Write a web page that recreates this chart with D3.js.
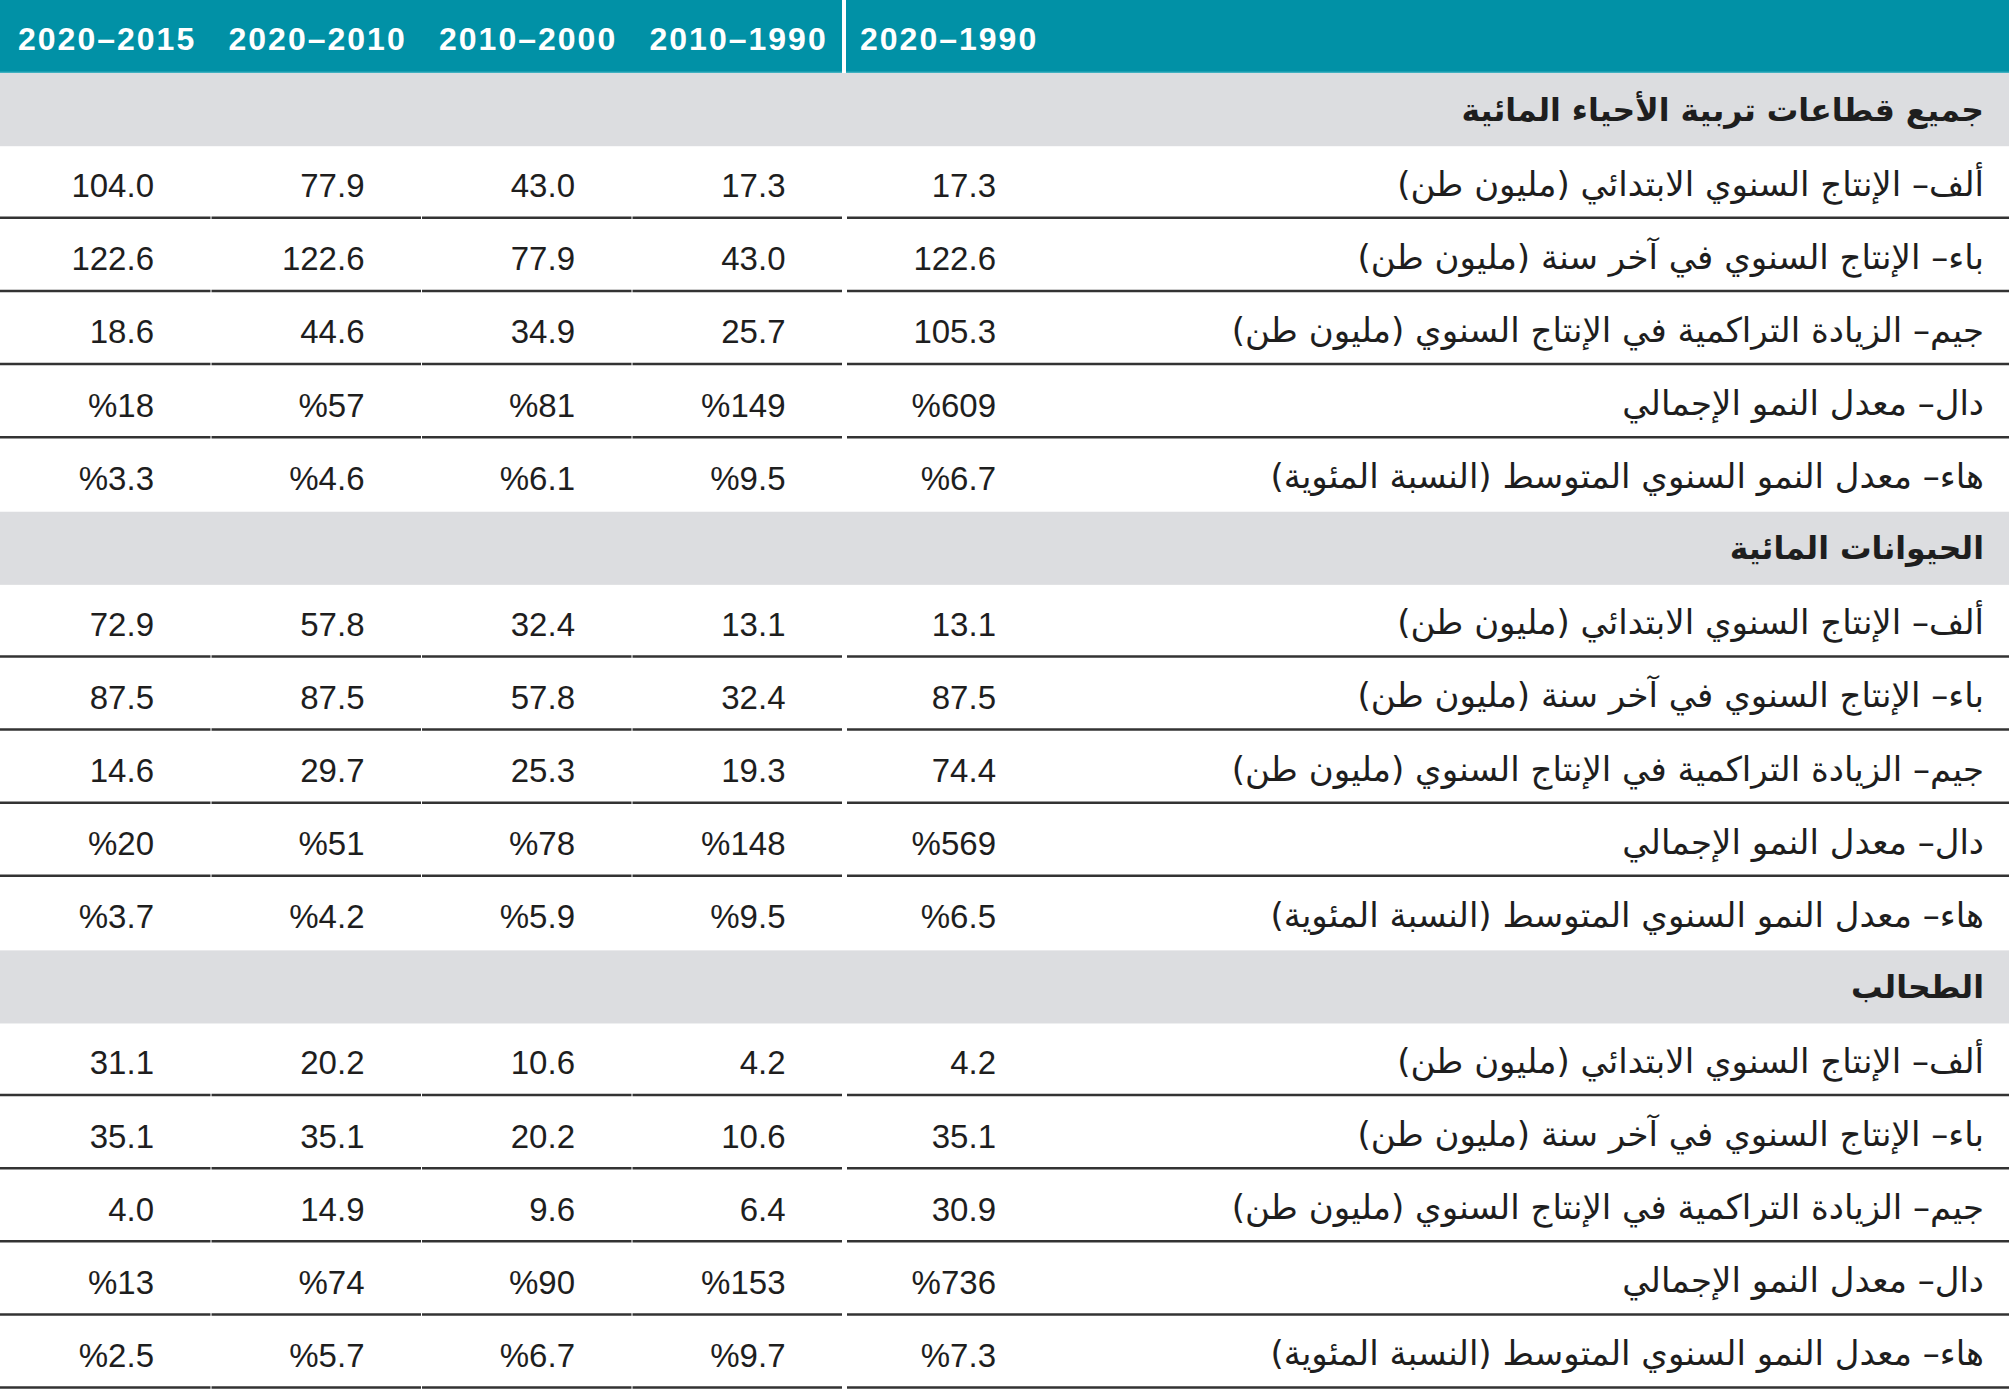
<!DOCTYPE html>
<html>
<head>
<meta charset="utf-8">
<script src="https://cdn.jsdelivr.net/npm/d3@7"></script>
<style>
  body { margin: 0; background: #fff; }
  svg { display: block; }
</style>
</head>
<body>
<div id="table"></div>
<script>
// columns, left to right as printed
const periods = ["2020–2015", "2020–2010", "2010–2000", "2010–1990", "2020–1990"];

const sections = ["جميع قطاعات تربية الأحياء المائية", "الحيوانات المائية", "الطحالب"];

const rowLabels = [
    "ألف– الإنتاج السنوي الابتدائي (مليون طن)",
    "باء– الإنتاج السنوي في آخر سنة (مليون طن)",
    "جيم– الزيادة التراكمية في الإنتاج السنوي (مليون طن)",
    "دال– معدل النمو الإجمالي",
    "هاء– معدل النمو السنوي المتوسط (النسبة المئوية)"
];

// one row per label, values follow the periods order
const allSectors = [
    [104.0, 77.9, 43.0, 17.3, 17.3],
    [122.6, 122.6, 77.9, 43.0, 122.6],
    [18.6, 44.6, 34.9, 25.7, 105.3],
    [18, 57, 81, 149, 609],
    [3.3, 4.6, 6.1, 9.5, 6.7]
];
const aquaticAnimals = [
    [72.9, 57.8, 32.4, 13.1, 13.1],
    [87.5, 87.5, 57.8, 32.4, 87.5],
    [14.6, 29.7, 25.3, 19.3, 74.4],
    [20, 51, 78, 148, 569],
    [3.7, 4.2, 5.9, 9.5, 6.5]
];
const algae = [
    [31.1, 20.2, 10.6, 4.2, 4.2],
    [35.1, 35.1, 20.2, 10.6, 35.1],
    [4.0, 14.9, 9.6, 6.4, 30.9],
    [13, 74, 90, 153, 736],
    [2.5, 5.7, 6.7, 9.7, 7.3]
];
const sectionData = [allSectors, aquaticAnimals, algae];

// formatting per row type
const fmt = [
    d3.format(".1f"), d3.format(".1f"), d3.format(".1f"),
    v => "%" + d3.format("d")(v),
    v => "%" + d3.format(".1f")(v)
];

const width = 2009, height = 1389;
const teal = "#0191a6", band = "#dcdde0", rule = "#333", ink = "#1e1e1e";

// flatten into rows: header, then section band + 5 data rows each
const rows = [{ type: "header" }];
sectionData.forEach((vals, s) => {
    rows.push({ type: "section", label: sections[s] });
    vals.forEach((v, i) => rows.push({ type: "data", label: rowLabels[i], values: v, fmt: fmt[i] }));
});

const y = d3.scaleBand().domain(d3.range(rows.length)).range([0, height]);
const x = d3.scaleBand().domain(periods).range([0, 1052.5]);
const gapX = x(periods[periods.length - 1]);
const labelRight = 1984;

const svg = d3.select("#table").append("svg")
    .attr("width", width)
    .attr("height", height);

// header
svg.append("rect")
    .attr("x", 0).attr("y", 0)
    .attr("width", width).attr("height", y.bandwidth())
    .attr("fill", teal);
svg.append("rect")
    .attr("x", 0).attr("y", y.bandwidth() - 1.5)
    .attr("width", width).attr("height", 1.5)
    .attr("fill", "#3fb0c0");
svg.append("rect")
    .attr("x", gapX).attr("y", 0)
    .attr("width", 4).attr("height", y.bandwidth())
    .attr("fill", "#fff");

svg.append("g").selectAll("text")
    .data(periods)
    .join("text")
    .attr("x", d => x(d) + 18)
    .attr("y", y(0) + 50)
    .attr("fill", "#fff")
    .style("font-family", "'Liberation Sans', Arial, sans-serif")
    .style("font-weight", "bold")
    .style("font-size", "32px")
    .style("letter-spacing", "2px")
    .text(d => d);

// section bands
const secRows = rows.map((r, i) => ({ ...r, i })).filter(r => r.type === "section");
svg.append("g").selectAll("rect")
    .data(secRows)
    .join("rect")
    .attr("x", 0).attr("y", d => y(d.i))
    .attr("width", width).attr("height", y.bandwidth())
    .attr("fill", band);

svg.append("g").selectAll("text")
    .data(secRows)
    .join("text")
    .attr("x", labelRight)
    .attr("y", d => y(d.i) + y.bandwidth() / 2)
    .attr("dy", "0.35em")
    .attr("direction", "rtl")
    .attr("text-anchor", "start")
    .attr("fill", ink)
    .style("font-family", "'DejaVu Sans', sans-serif")
    .style("font-weight", "bold")
    .style("font-size", "31.5px")
    .text(d => d.label);

// data rows
const dataRows = rows.map((r, i) => ({ ...r, i })).filter(r => r.type === "data");

const rowG = svg.append("g").selectAll("g")
    .data(dataRows)
    .join("g")
    .attr("transform", d => `translate(0,${y(d.i)})`);

rowG.append("text")
    .attr("x", labelRight)
    .attr("y", y.bandwidth() / 2)
    .attr("dy", "0.38em")
    .attr("direction", "rtl")
    .attr("text-anchor", "start")
    .attr("fill", ink)
    .style("font-family", "'DejaVu Sans', sans-serif")
    .style("font-size", "34px")
    .text(d => d.label);

rowG.selectAll("text.val")
    .data(d => d.values.map((v, j) => ({ v, p: periods[j], f: d.fmt })))
    .join("text")
    .attr("class", "val")
    .attr("x", d => x(d.p) + 154)
    .attr("y", 51)
    .attr("text-anchor", "end")
    .attr("fill", ink)
    .style("font-family", "'Liberation Sans', Arial, sans-serif")
    .style("font-size", "33px")
    .text(d => d.f(d.v));

// rules under every data row, broken at the column edges
const segs = periods.slice(0, -1).map(p => [x(p) + (x(p) ? 1 : 0), x(p) + x.bandwidth()])
    .concat([[gapX + 5, width]]);

rowG.selectAll("line")
    .data(segs)
    .join("line")
    .attr("x1", d => d[0]).attr("x2", d => d[1])
    .attr("y1", y.bandwidth() - 1.5).attr("y2", y.bandwidth() - 1.5)
    .attr("stroke", rule)
    .attr("stroke-width", 2.5);

// no rule above a section band
rowG.filter(d => rows[d.i + 1] && rows[d.i + 1].type === "section")
    .selectAll("line").remove();
</script>
</body>
</html>
